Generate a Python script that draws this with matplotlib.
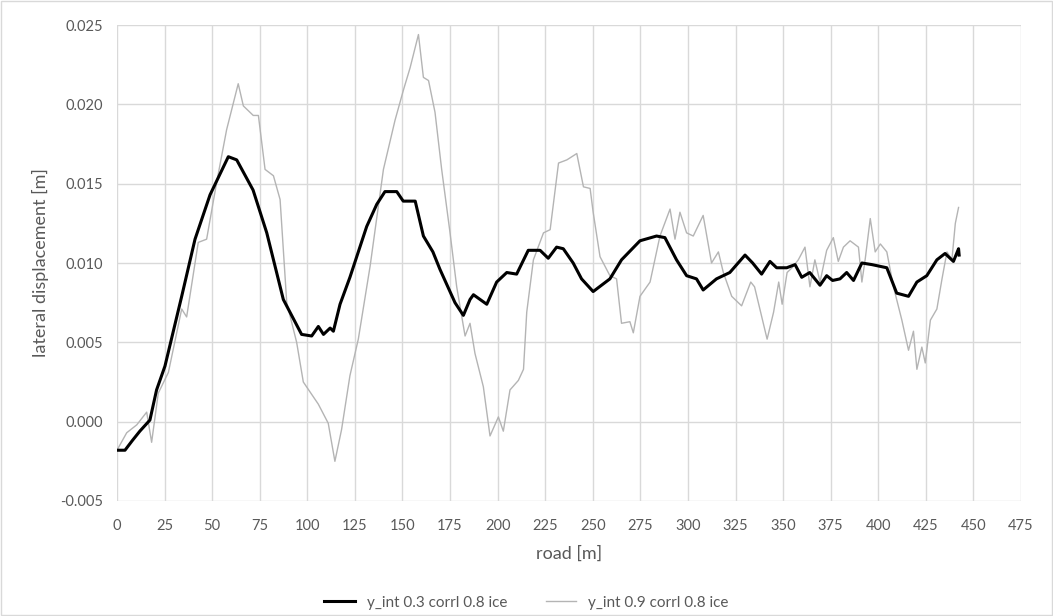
import matplotlib
matplotlib.use('Agg')
import matplotlib.pyplot as plt
from matplotlib.patches import Rectangle

# road position [m] and lateral displacement [m]
road_a = [0, 4.2, 8, 12, 17.3, 20.8, 25.2, 34, 41, 48.9, 58.5, 62.9, 71.5, 78.7,
          87.4, 97, 102.3, 105.8, 108.5, 112, 113.7, 117.2, 122.4, 131.2, 136.5,
          140.8, 147, 150.4, 156.7, 161, 166, 169.7, 177.6, 182, 185.5, 187.3,
          194.3, 199.5, 204.8, 210, 216.1, 222.3, 226.6, 231, 234.5, 239.7,
          244.1, 250.2, 259, 265.1, 274.8, 283.5, 287.9, 294, 299.3, 304.5, 308,
          315, 322, 330, 334, 338.7, 343.1, 346.6, 351.9, 356.3, 359.8, 364,
          369.4, 372.9, 376, 379.9, 383.4, 387, 391.4, 396.6, 404.5, 409.7,
          415.9, 420.3, 425.5, 430.8, 435.1, 439.5, 442.2, 442.5]
disp_a = [-0.0018, -0.0018, -0.0012, -0.0006, 0.0001, 0.0020, 0.0035, 0.0079,
          0.0115, 0.0143, 0.0167, 0.0165, 0.0146, 0.0119, 0.0077, 0.0055, 0.0054,
          0.0060, 0.0055, 0.0059, 0.0057, 0.0074, 0.0091, 0.0123, 0.0137, 0.0145,
          0.0145, 0.0139, 0.0139, 0.0117, 0.0107, 0.0096, 0.0075, 0.0067, 0.0077,
          0.0080, 0.0074, 0.0088, 0.0094, 0.0093, 0.0108, 0.0108, 0.0103, 0.0110,
          0.0109, 0.0100, 0.0090, 0.0082, 0.0090, 0.0102, 0.0114, 0.0117, 0.0116,
          0.0102, 0.0092, 0.0090, 0.0083, 0.0090, 0.0094, 0.0105, 0.0100, 0.0093,
          0.0101, 0.0097, 0.0097, 0.0099, 0.0091, 0.0094, 0.0086, 0.0092, 0.0089,
          0.0090, 0.0094, 0.0089, 0.0100, 0.0099, 0.0097, 0.0081, 0.0079, 0.0088,
          0.0092, 0.0102, 0.0106, 0.0101, 0.0109, 0.0105]

road_b = [0, 5.1, 10.4, 15.6, 18.2, 21.7, 27, 34, 36.6, 42.7, 47.1, 52.4, 57.6,
          63.7, 66.4, 71.6, 74.3, 77.8, 82.2, 85.7, 89.2, 94.4, 97.9, 105.8, 111,
          114.5, 118, 122.4, 126.8, 133, 140, 146.1, 150.5, 154, 158.4, 161,
          163.7, 167.1, 170.6, 175, 178.5, 182.9, 185.5, 188.1, 192.5, 196,
          200.4, 203, 206.5, 210.9, 213.6, 215.3, 218.8, 224.1, 227.6, 232,
          236.4, 241.6, 245.1, 248.6, 250.2, 253.8, 259, 262.5, 265.1, 269.5,
          271.3, 274.8, 280.1, 285.3, 290.6, 293.2, 295.8, 299.3, 302.8, 308,
          312.4, 316, 318.6, 323, 328.2, 333, 335, 341.6, 345, 347.7, 349.5,
          352.1, 354.7, 358, 361.5, 364.1, 366.7, 369.4, 372.9, 376.4, 379,
          381.7, 385.2, 389.6, 391.4, 393.1, 395.8, 398.4, 401.1, 404.5, 408,
          412.4, 415.9, 418.5, 420.3, 422.9, 424.7, 427.4, 430.8, 433.5, 436.1,
          438.7, 440.5, 442.2]
disp_b = [-0.0018, -0.0007, -0.0002, 0.0006, -0.0013, 0.0018, 0.0031, 0.0071,
          0.0066, 0.0113, 0.0115, 0.0151, 0.0184, 0.0213, 0.0199, 0.0193, 0.0193,
          0.0159, 0.0155, 0.0140, 0.0075, 0.0050, 0.0025, 0.0011, -0.0001,
          -0.0025, -0.0005, 0.0029, 0.0052, 0.0098, 0.0159, 0.0190, 0.0209,
          0.0223, 0.0244, 0.0217, 0.0215, 0.0195, 0.0159, 0.0119, 0.0085, 0.0054,
          0.0062, 0.0043, 0.0022, -0.0009, 0.0003, -0.0006, 0.0020, 0.0026,
          0.0033, 0.0069, 0.0102, 0.0119, 0.0121, 0.0163, 0.0165, 0.0169, 0.0148,
          0.0147, 0.0132, 0.0104, 0.0092, 0.0090, 0.0062, 0.0063, 0.0056, 0.0079,
          0.0088, 0.0117, 0.0134, 0.0115, 0.0132, 0.0119, 0.0117, 0.0130, 0.0100,
          0.0107, 0.0094, 0.0079, 0.0073, 0.0088, 0.0085, 0.0052, 0.0069, 0.0088,
          0.0074, 0.0094, 0.0097, 0.0102, 0.0110, 0.0085, 0.0102, 0.0088, 0.0108,
          0.0116, 0.0101, 0.0110, 0.0114, 0.0110, 0.0088, 0.0102, 0.0128, 0.0107,
          0.0112, 0.0107, 0.0085, 0.0064, 0.0045, 0.0057, 0.0033, 0.0047, 0.0037,
          0.0064, 0.0071, 0.0090, 0.0107, 0.0102, 0.0125, 0.0135]

x_ticks = list(range(0, 476, 25))
y_ticks = [-0.005, 0.0, 0.005, 0.010, 0.015, 0.020, 0.025]

plt.rcParams['font.family'] = ['Lato', 'DejaVu Sans']
txt = '#595959'
grid_c = '#d9d9d9'

fig = plt.figure(figsize=(10.53, 6.16), dpi=100)
ax = fig.add_axes([0.1111, 0.1867, 0.8585, 0.7727])

ax.plot(road_a, disp_a, color='black', linewidth=2.2, label='y_int 0.3 corrl 0.8 ice', zorder=3)
ax.plot(road_b, disp_b, color='#b4b4b4', linewidth=1.0, label='y_int 0.9 corrl 0.8 ice', zorder=2)

ax.set_xlim(0, 475)
ax.set_ylim(-0.005, 0.025)
ax.set_xticks(x_ticks)
ax.set_yticks(y_ticks)
ax.set_yticklabels(['{:.3f}'.format(v) for v in y_ticks])
ax.grid(True, color=grid_c, linewidth=1)
ax.set_axisbelow(True)
for s in ax.spines.values():
    s.set_visible(False)
ax.tick_params(axis='y', length=0, colors=txt, labelsize=10.5, pad=10)
ax.tick_params(axis='x', length=0, colors=txt, labelsize=10.5, pad=13)

ax.set_xlabel('road [m]', color=txt, fontsize=13, labelpad=9)
ax.set_ylabel('lateral displacement [m]', color=txt, fontsize=13, labelpad=8)

leg = fig.legend(loc='lower center', ncol=2, frameon=False, fontsize=11,
                 bbox_to_anchor=(0.5, -0.012), handlelength=2.0, columnspacing=2.5)
for t in leg.get_texts():
    t.set_color(txt)

fig.patches.append(Rectangle((0.001, 0.001), 0.998, 0.998, transform=fig.transFigure,
                             fill=False, edgecolor=grid_c, linewidth=1))

fig.savefig('out.png', dpi=100)
